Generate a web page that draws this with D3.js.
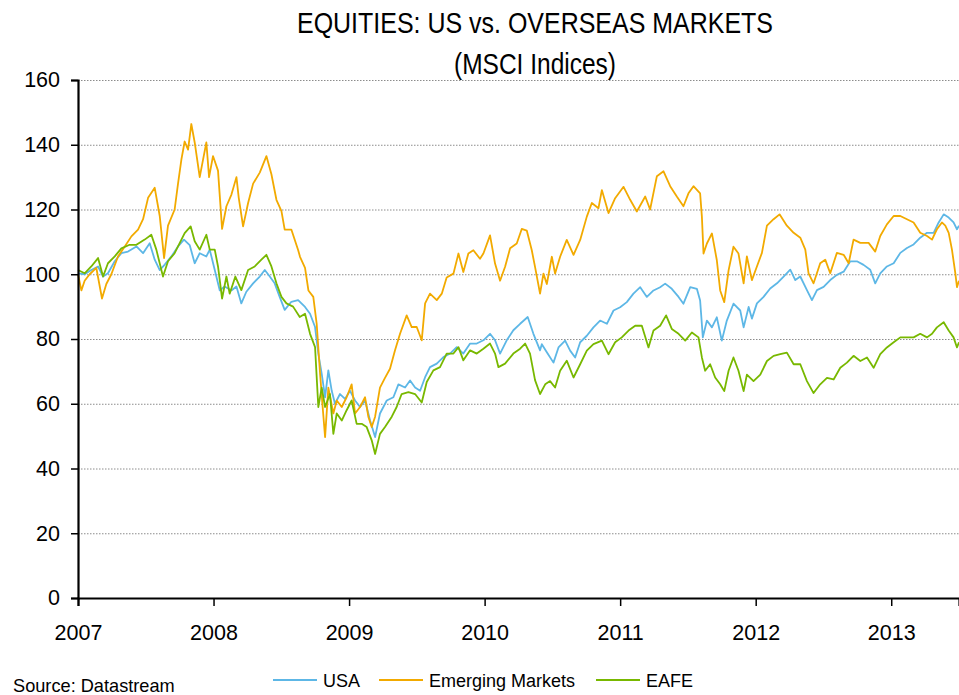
<!DOCTYPE html>
<html>
<head>
<meta charset="utf-8">
<script src="https://cdn.jsdelivr.net/npm/d3@7"></script>
<style>
  body { margin: 0; background: #fff; }
  svg { font-family: "Liberation Sans", Arial, sans-serif; }
  .grid line { stroke: #8c8c8c; stroke-dasharray: 1.5,1.5; }
</style>
</head>
<body>
<svg id="chart"></svg>
<script>
// readings, [decimal year, index level]
const usa = [
  [2007.000,100.3],[2007.049,100],[2007.098,101.3],[2007.148,102.4],[2007.185,99.3],[2007.221,100.3],
  [2007.271,104],[2007.320,106.5],[2007.369,107],[2007.431,108.6],[2007.480,106.5],[2007.529,109.6],
  [2007.566,104.5],[2007.603,101.3],[2007.640,103],[2007.689,105.5],[2007.738,108.6],[2007.782,110.7],
  [2007.824,109],[2007.861,103.4],[2007.898,106.5],[2007.947,105.5],[2007.972,107.6],[2008.009,101.3],
  [2008.046,95],[2008.082,96.2],[2008.132,95],[2008.169,96.2],[2008.205,91],[2008.242,94.6],
  [2008.292,97.2],[2008.341,99.3],[2008.378,101.3],[2008.415,99.3],[2008.451,97.2],[2008.488,93],
  [2008.525,89],[2008.574,91.5],[2008.624,92],[2008.675,89.9],[2008.712,87.8],[2008.749,83.7],
  [2008.773,75.5],[2008.798,69.3],[2008.823,62],[2008.847,70.3],[2008.872,64],[2008.896,60],
  [2008.933,63],[2008.970,61.5],[2009.007,64],[2009.044,61],[2009.081,59],[2009.118,61],
  [2009.155,54.8],[2009.192,49.7],[2009.228,57],[2009.278,61],[2009.327,62],[2009.364,66],
  [2009.413,65],[2009.450,67.2],[2009.487,65],[2009.524,64],[2009.561,68.2],[2009.597,71.3],
  [2009.647,72.4],[2009.696,74.4],[2009.745,75.5],[2009.794,77.5],[2009.843,75.5],[2009.893,78.6],
  [2009.942,78.6],[2009.991,79.6],[2010.040,81.6],[2010.077,79.6],[2010.114,75.5],[2010.163,79.6],
  [2010.212,82.7],[2010.262,84.7],[2010.318,86.8],[2010.360,81.6],[2010.409,76.5],[2010.422,78.4],
  [2010.459,75.9],[2010.508,72.7],[2010.545,77.4],[2010.594,79.5],[2010.631,76.4],[2010.668,74.3],
  [2010.705,79],[2010.754,81],[2010.803,83.6],[2010.852,85.7],[2010.902,84.7],[2010.951,88.8],
  [2011.000,89.8],[2011.049,91.4],[2011.098,94],[2011.148,96],[2011.197,93],[2011.246,95],
  [2011.295,96],[2011.332,97.1],[2011.381,95.5],[2011.431,93],[2011.467,90.9],[2011.517,96],
  [2011.566,95.5],[2011.590,91.9],[2011.610,80.5],[2011.640,85.7],[2011.677,83.6],[2011.713,86.7],
  [2011.750,79.5],[2011.787,85.7],[2011.836,90.9],[2011.886,88.8],[2011.911,83.6],[2011.948,89.9],
  [2011.972,86.3],[2012.009,91],[2012.058,93],[2012.107,95.6],[2012.157,97.2],[2012.206,99.3],
  [2012.255,101.4],[2012.292,98.2],[2012.329,99.3],[2012.378,95.1],[2012.415,92],[2012.452,95.1],
  [2012.501,96.1],[2012.550,98.2],[2012.599,99.8],[2012.649,100.8],[2012.698,104],[2012.747,104],
  [2012.796,102.9],[2012.845,101.4],[2012.882,97.2],[2012.919,100.3],[2012.968,102.4],[2013.018,103.4],
  [2013.067,106.6],[2013.116,108.1],[2013.165,109.2],[2013.214,111.3],[2013.264,112.8],[2013.313,112.8],
  [2013.350,116],[2013.387,118.5],[2013.424,117.5],[2013.460,116],[2013.485,113.9],[2013.500,115]
];

const emerging = [
  [2007.000,100],[2007.025,95],[2007.049,98],[2007.086,100],[2007.135,102],[2007.177,92.5],
  [2007.209,97],[2007.246,100],[2007.295,105.5],[2007.344,108.5],[2007.394,111.7],[2007.443,113.8],
  [2007.480,117],[2007.517,123.6],[2007.566,126.7],[2007.603,118],[2007.635,105],[2007.664,115],
  [2007.713,120],[2007.738,128],[2007.763,135.5],[2007.787,141],[2007.812,138.5],[2007.836,146.4],
  [2007.861,140.7],[2007.898,130],[2007.923,135.5],[2007.947,140.7],[2007.967,130],[2007.996,136.5],
  [2008.033,132],[2008.063,114],[2008.095,121],[2008.132,124.6],[2008.169,130],[2008.186,123.6],
  [2008.218,114.8],[2008.255,122],[2008.292,128],[2008.341,131.4],[2008.390,136.5],[2008.427,130.9],
  [2008.464,123],[2008.501,119.5],[2008.525,113.8],[2008.574,113.8],[2008.624,107.5],[2008.638,105.4],
  [2008.675,102],[2008.700,95],[2008.736,93],[2008.761,84.7],[2008.786,69.3],[2008.805,59],
  [2008.823,49.7],[2008.847,65],[2008.884,57],[2008.909,61],[2008.946,59],[2008.982,62],
  [2009.019,66],[2009.044,57],[2009.081,59],[2009.118,62],[2009.142,56],[2009.167,52.8],
  [2009.192,56],[2009.228,65],[2009.265,68],[2009.302,70.8],[2009.339,76.5],[2009.376,81.6],
  [2009.425,87.3],[2009.462,83.7],[2009.499,83.7],[2009.536,79.6],[2009.561,91],[2009.597,94],
  [2009.647,92],[2009.684,94],[2009.720,99],[2009.770,100.2],[2009.807,106.4],[2009.843,100.7],
  [2009.880,106.4],[2009.917,107.4],[2009.966,104.8],[2009.991,106.4],[2010.040,112],[2010.077,103.3],
  [2010.114,98],[2010.151,102.3],[2010.188,108],[2010.237,109.5],[2010.274,114],[2010.311,113.5],
  [2010.348,107.4],[2010.372,102.3],[2010.409,94],[2010.434,100.2],[2010.459,97],[2010.496,105.4],
  [2010.520,100.2],[2010.557,105.4],[2010.606,110.6],[2010.656,106],[2010.705,110.6],[2010.754,117.8],
  [2010.791,122],[2010.840,120.4],[2010.865,126],[2010.914,118.9],[2010.963,123.5],[2011.025,127],
  [2011.074,123],[2011.123,119.4],[2011.185,124],[2011.221,120],[2011.271,130.3],[2011.320,131.8],
  [2011.369,127.2],[2011.418,124],[2011.467,121],[2011.504,125],[2011.541,127.2],[2011.590,125],
  [2011.603,117.8],[2011.615,106.4],[2011.640,109.5],[2011.677,112.6],[2011.713,104.4],[2011.738,95],
  [2011.768,91.4],[2011.800,101.2],[2011.836,108.5],[2011.873,106.4],[2011.911,97.2],[2011.935,105.5],
  [2011.972,98.2],[2012.009,102.4],[2012.046,106.6],[2012.083,115],[2012.132,117],[2012.176,118.5],
  [2012.230,115],[2012.280,112.8],[2012.329,111.3],[2012.366,107.6],[2012.390,100.3],[2012.427,97.2],
  [2012.476,103.4],[2012.513,104.5],[2012.550,100.3],[2012.599,106.6],[2012.649,106],[2012.686,103.4],
  [2012.722,110.7],[2012.772,109.7],[2012.833,109.7],[2012.882,107],[2012.919,111.8],[2012.968,115.4],
  [2013.018,118],[2013.067,118],[2013.116,117],[2013.165,116],[2013.214,112.8],[2013.264,111.8],
  [2013.301,110.7],[2013.337,113.9],[2013.374,116],[2013.399,115],[2013.424,112.8],[2013.448,107.6],
  [2013.473,100.3],[2013.485,96],[2013.500,98]
];

const eafe = [
  [2007.000,101.3],[2007.049,100.3],[2007.098,102.4],[2007.148,105],[2007.185,99.3],[2007.221,103.4],
  [2007.271,105.5],[2007.320,108],[2007.381,109.1],[2007.431,109.1],[2007.492,110.7],[2007.541,112.2],
  [2007.578,107.6],[2007.627,99.3],[2007.664,104],[2007.713,106.5],[2007.750,109.6],[2007.787,112.7],
  [2007.831,114.8],[2007.861,110.2],[2007.898,107.6],[2007.947,112.2],[2007.972,107.6],[2008.009,107.6],
  [2008.033,102.4],[2008.063,92.5],[2008.095,99.3],[2008.119,94],[2008.161,99.3],[2008.205,95.1],
  [2008.255,101.3],[2008.304,102.4],[2008.353,104.5],[2008.390,106],[2008.427,102.4],[2008.464,97.2],
  [2008.501,93],[2008.538,91],[2008.587,90],[2008.636,86.8],[2008.675,87.8],[2008.712,81.6],
  [2008.749,77.5],[2008.773,59],[2008.798,65],[2008.823,59],[2008.859,63],[2008.884,50.7],
  [2008.909,57],[2008.946,54.8],[2008.982,58],[2009.019,61],[2009.056,53.8],[2009.093,53.8],
  [2009.130,52.8],[2009.167,48.7],[2009.192,44.5],[2009.228,50.7],[2009.265,52.8],[2009.315,56],
  [2009.351,59],[2009.388,63],[2009.438,63.6],[2009.487,63],[2009.536,60.4],[2009.573,66.7],
  [2009.622,70.3],[2009.671,71.3],[2009.720,75.5],[2009.770,75.5],[2009.807,77.5],[2009.843,73.4],
  [2009.893,76.5],[2009.942,75.5],[2009.991,77],[2010.040,78.6],[2010.077,75.5],[2010.102,71.3],
  [2010.151,72.4],[2010.212,75.5],[2010.262,77],[2010.299,78.6],[2010.335,75.5],[2010.372,67.3],
  [2010.409,63],[2010.447,66],[2010.483,67],[2010.520,65],[2010.557,70.2],[2010.606,73.3],
  [2010.656,68.1],[2010.705,72.2],[2010.754,76.4],[2010.803,78.4],[2010.865,79.5],[2010.914,75.3],
  [2010.963,79],[2011.012,80.5],[2011.062,82.6],[2011.111,84.1],[2011.160,84.1],[2011.209,77.4],
  [2011.246,82.6],[2011.295,84.1],[2011.339,87.3],[2011.381,83.1],[2011.431,81.6],[2011.480,79.5],
  [2011.529,82],[2011.578,80.5],[2011.603,74.3],[2011.627,70.2],[2011.664,72.2],[2011.701,68.1],
  [2011.738,66],[2011.768,63.9],[2011.800,70.2],[2011.836,74.3],[2011.873,70.2],[2011.911,63.9],
  [2011.935,69],[2011.984,67],[2012.034,69],[2012.083,73.2],[2012.132,74.8],[2012.181,75.3],
  [2012.230,75.8],[2012.280,72.2],[2012.329,72.2],[2012.378,67],[2012.427,63.3],[2012.476,66],
  [2012.526,68],[2012.575,67.5],[2012.624,71.1],[2012.673,72.7],[2012.722,74.8],[2012.772,73.2],
  [2012.821,74.3],[2012.870,71.1],[2012.919,75.3],[2012.968,77.4],[2013.018,79],[2013.067,80.5],
  [2013.116,80.5],[2013.165,80.5],[2013.214,81.6],[2013.264,80.5],[2013.301,81.6],[2013.337,83.6],
  [2013.387,85.2],[2013.424,82.6],[2013.460,80.5],[2013.485,77.4],[2013.500,79]
];

const seriesNames = ['USA', 'Emerging Markets', 'EAFE'];
const seriesColors = ['#5db7e6', '#f2aa00', '#78b800'];
const yearTicks = [2007, 2008, 2009, 2010, 2011, 2012, 2013];
const valueTicks = [0, 20, 40, 60, 80, 100, 120, 140, 160];
const titleLines = ['EQUITIES: US vs. OVERSEAS MARKETS', '(MSCI Indices)'];

const W = 959, H = 695;
const margin = { top: 80, right: 0, bottom: 97, left: 78 };
const width = W - margin.left - margin.right;
const height = H - margin.top - margin.bottom;

const svg = d3.select('#chart').attr('width', W).attr('height', H);

const x = d3.scaleLinear().domain([2007, 2013.5]).range([0, width]);
const y = d3.scaleLinear().domain([0, 160]).range([height, 0]);

const chart = svg.append('g')
  .attr('transform', `translate(${margin.left}, ${margin.top})`);

// title, condensed like the original
const titleLen = [476, 162];
const titleBase = [33, 74];
titleLines.forEach((t, i) => {
  svg.append('text')
    .attr('x', 535 - titleLen[i] / 2).attr('y', titleBase[i])
    .attr('textLength', titleLen[i])
    .attr('lengthAdjust', 'spacingAndGlyphs')
    .style('font-size', '30px')
    .text(t);
});

// dotted gridlines
chart.append('g')
  .attr('class', 'grid')
  .selectAll('line')
  .data(valueTicks.filter(d => d > 0))
  .enter().append('line')
  .attr('x1', 0).attr('x2', width)
  .attr('y1', d => y(d) + 0.5).attr('y2', d => y(d) + 0.5);

const line = d3.line()
  .x(d => x(d[0]))
  .y(d => y(d[1]));

[usa, emerging, eafe].forEach((data, i) => {
  chart.append('path')
    .datum(data)
    .attr('fill', 'none')
    .attr('stroke', seriesColors[i])
    .attr('stroke-width', 1.8)
    .attr('stroke-linejoin', 'round')
    .attr('d', line);
});

// axes
const yAxis = chart.append('g')
  .call(d3.axisLeft(y).tickValues(valueTicks).tickSize(7).tickPadding(11));
const xAxis = chart.append('g')
  .attr('transform', `translate(0, ${height})`)
  .call(d3.axisBottom(x).tickValues(yearTicks).tickFormat(d3.format('d')).tickSize(8).tickPadding(19));

[yAxis, xAxis].forEach(a => {
  a.select('.domain').attr('stroke', '#000').attr('stroke-width', 2.2);
  a.selectAll('.tick line').attr('stroke', '#000').attr('stroke-width', 1.5);
  a.selectAll('text')
    .attr('fill', '#000')
    .style('font-family', '"Liberation Sans", Arial, sans-serif')
    .style('font-size', '21.5px');
});

// legend
const legendX = [273, 379, 596];
const legend = svg.append('g').attr('transform', 'translate(0, 680)');
seriesNames.forEach((name, i) => {
  legend.append('line')
    .attr('x1', legendX[i]).attr('x2', legendX[i] + 44)
    .attr('y1', 0).attr('y2', 0)
    .attr('stroke', seriesColors[i]).attr('stroke-width', 2);
  legend.append('text')
    .attr('x', legendX[i] + 50).attr('y', 6.5)
    .style('font-size', '18px')
    .text(name);
});

svg.append('text')
  .attr('x', 13).attr('y', 692)
  .style('font-size', '18.2px')
  .text('Source: Datastream');
</script>
</body>
</html>
